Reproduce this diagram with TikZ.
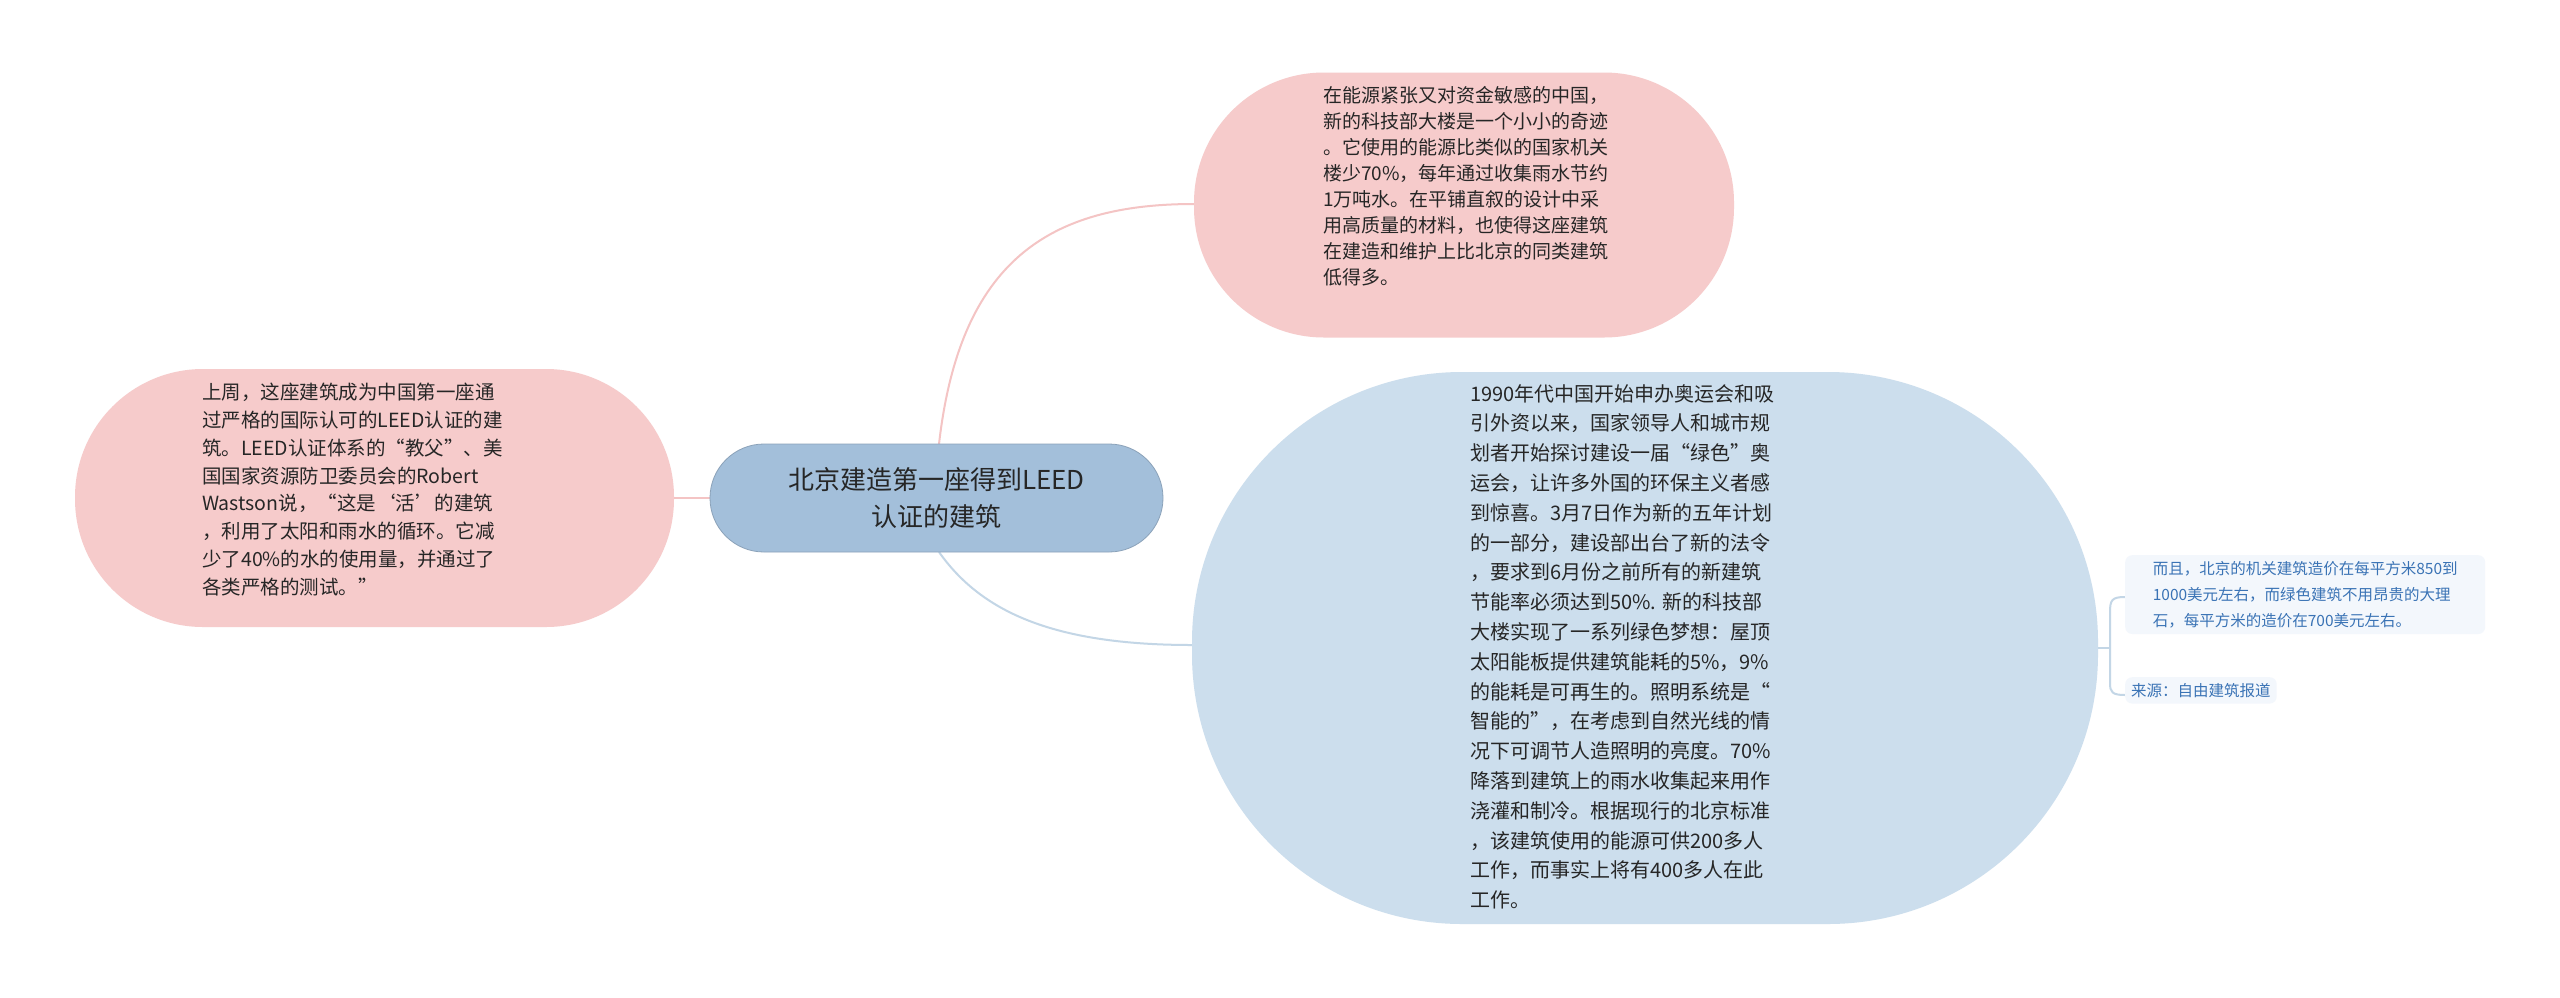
\documentclass[tikz,border=0pt]{standalone}
\usepackage{fontspec}
\setmainfont{Noto Sans CJK SC}
\begin{document}
\begin{tikzpicture}[x=1pt,y=-1pt,
  pinkbox/.style={draw=none,fill=pinkfill,rounded corners=130pt,inner sep=0pt},
  txt/.style={align=left,text=textc,inner sep=0pt},
  smallbox/.style={fill=smallfill,rounded corners=7pt,text=smalltext,align=left,inner sep=6pt,anchor=north west,font=\fontsize{15.5}{26}\selectfont},
]
\definecolor{pinkfill}{HTML}{F6CBCB}
\definecolor{bluefill}{HTML}{CCDEED}
\definecolor{centerfill}{HTML}{A3BFDA}
\definecolor{textc}{HTML}{262626}
\definecolor{smallfill}{HTML}{F3F7FC}
\definecolor{smalltext}{HTML}{3A73B5}
\definecolor{pinkline}{HTML}{F4C4C4}
\definecolor{blueline}{HTML}{C3D6E6}
\useasboundingbox (0,0) rectangle (2560,997);
\fill[white] (0,0) rectangle (2560,997);

% connectors
\coordinate (c1) at (939,444);
\coordinate (c2) at (939,552);
\draw[pinkline,line width=2pt] (c1) .. controls (960,260) and (1050,204) .. (1194,204);
\draw[blueline,line width=2pt] (c2) .. controls (980,610) and (1050,645) .. (1192,645);
\draw[pinkline,line width=2pt] (710,498) -- (674,498);
\draw[blueline,line width=2pt] (2098,648) -- (2110,648);
\draw[blueline,line width=2pt] (2125,597) .. controls (2112,597) and (2110,600) .. (2110,612) -- (2110,683) .. controls (2110,692) and (2112,695) .. (2125,695);

% center
\node[fill=centerfill,draw=centerfill!85!black,line width=0.8pt,rounded corners=54pt,minimum width=453pt,minimum height=108pt,align=center,text=textc,font=\fontsize{26}{37}\selectfont] (center) at (936.5,498) {北京建造第一座得到LEED\\认证的建筑};

% top pink
\node[pinkbox,minimum width=540pt,minimum height=265pt] (top) at (1464,205) {};
\node[txt,font=\fontsize{19}{26}\selectfont,anchor=north west] (toptxt) at (1323,86) {在能源紧张又对资金敏感的中国，\\新的科技部大楼是一个小小的奇迹\\。它使用的能源比类似的国家机关\\楼少70\%，每年通过收集雨水节约\\1万吨水。在平铺直叙的设计中采\\用高质量的材料，也使得这座建筑\\在建造和维护上比北京的同类建筑\\低得多。};

% left pink
\node[pinkbox,minimum width=599pt,minimum height=258pt,rounded corners=128pt] (left) at (374.5,498) {};
\node[txt,font=\fontsize{19.5}{27.8}\selectfont,anchor=north west] (lefttxt) at (202,383) {上周，这座建筑成为中国第一座通\\过严格的国际认可的LEED认证的建\\筑。LEED认证体系的“教父”、美\\国国家资源防卫委员会的Robert\\ Wastson说，“这是‘活’的建筑\\，利用了太阳和雨水的循环。它减\\少了40\%的水的使用量，并通过了\\各类严格的测试。”};

% big ellipse
\node[fill=bluefill,rounded corners=270pt,minimum width=906pt,minimum height=552pt,inner sep=0pt] (big) at (1645,648) {};
\node[txt,font=\fontsize{20}{29.8}\selectfont,anchor=north west] (bigtxt) at (1470,384) {1990年代中国开始申办奥运会和吸\\引外资以来，国家领导人和城市规\\划者开始探讨建设一届“绿色”奥\\运会，让许多外国的环保主义者感\\到惊喜。3月7日作为新的五年计划\\的一部分，建设部出台了新的法令\\，要求到6月份之前所有的新建筑\\节能率必须达到50\%. 新的科技部\\大楼实现了一系列绿色梦想：屋顶\\太阳能板提供建筑能耗的5\%，9\%\\的能耗是可再生的。照明系统是“\\智能的”，在考虑到自然光线的情\\况下可调节人造照明的亮度。70\%\\降落到建筑上的雨水收集起来用作\\浇灌和制冷。根据现行的北京标准\\，该建筑使用的能源可供200多人\\工作，而事实上将有400多人在此\\工作。};

% small boxes
\node[smallbox,minimum width=360pt] (s1) at (2125,555) {而且，北京的机关建筑造价在每平方米850到\\1000美元左右，而绿色建筑不用昂贵的大理\\石，每平方米的造价在700美元左右。};
\node[smallbox] (s2) at (2125,677) {来源：自由建筑报道};
\end{tikzpicture}
\end{document}
